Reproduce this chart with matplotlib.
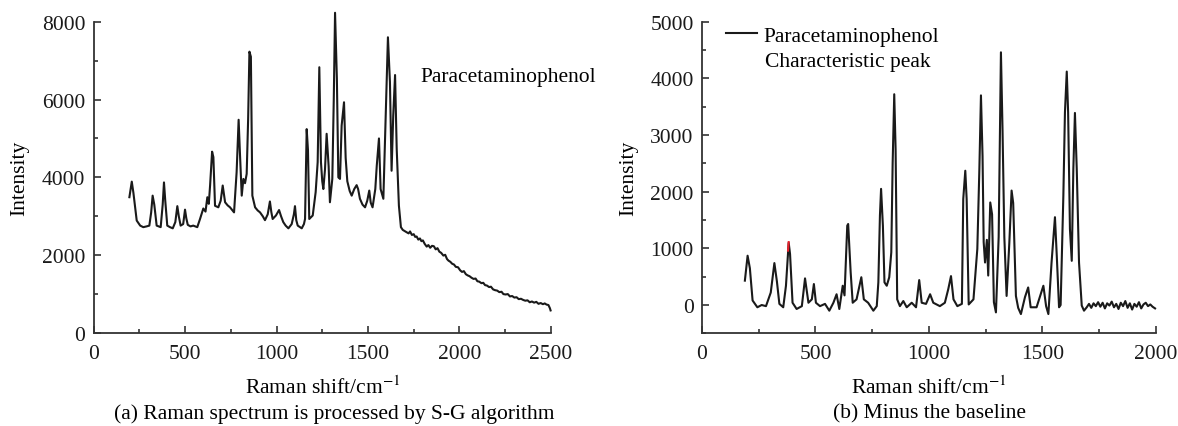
import numpy as np
import matplotlib
matplotlib.use("Agg")
import matplotlib.pyplot as plt
from matplotlib.ticker import MultipleLocator

plt.rcParams['font.family'] = ['Liberation Serif', 'DejaVu Serif']
plt.rcParams['mathtext.fontset'] = 'stix'

# (a) S-G smoothed Raman spectrum
wn_a = [196, 209, 218, 236, 255, 272, 290, 305, 315, 323, 332, 345, 367, 378, 385, 392,
        403, 418, 433, 447, 458, 466, 476, 490, 500, 507, 515, 530, 545, 567, 582, 600,
        612, 622, 630, 637, 648, 655, 664, 682, 695, 706, 719, 733, 746, 768, 782, 793,
        800, 810, 819, 828, 837, 845, 852, 860, 868, 883, 897, 910, 925, 937, 952, 964,
        972, 979, 997, 1014, 1025, 1037, 1050, 1065, 1083, 1095, 1101, 1108, 1116, 1138,
        1150, 1156, 1165, 1172, 1179, 1198, 1214, 1225, 1234, 1243, 1250, 1256, 1265,
        1274, 1285, 1292, 1305, 1313, 1320, 1330, 1338, 1347, 1356, 1369, 1378, 1387,
        1400, 1411, 1425, 1438, 1446, 1456, 1470, 1484, 1496, 1507, 1515, 1525, 1540,
        1548, 1560, 1569, 1584, 1597, 1609, 1620, 1629, 1638, 1648, 1657, 1669, 1680,
        1690, 1700, 1711, 1722, 1730, 1740, 1750, 1758, 1766, 1775, 1784, 1792, 1800,
        1810, 1821, 1830, 1840, 1850, 1860, 1870, 1880, 1890, 1900, 1912, 1922, 1932,
        1940, 1950, 1960, 1970, 1980, 1992, 2004, 2014, 2024, 2035, 2045, 2055, 2066,
        2077, 2088, 2098, 2108, 2120, 2130, 2140, 2150, 2162, 2172, 2184, 2195, 2206,
        2218, 2230, 2240, 2252, 2264, 2276, 2288, 2300, 2312, 2324, 2336, 2348, 2360,
        2372, 2384, 2396, 2408, 2420, 2432, 2444, 2456, 2466, 2476, 2486, 2494, 2498]
int_a = [3490, 3890, 3600, 2890, 2760, 2720, 2740, 2760, 3100, 3530, 3300, 2760, 2720, 3300, 3870, 3400,
         2760, 2720, 2690, 2850, 3260, 3000, 2760, 2800, 3170, 2950, 2780, 2740, 2760, 2720, 2930, 3200,
         3120, 3490, 3320, 3790, 4660, 4520, 3270, 3230, 3400, 3790, 3360, 3280, 3230, 3100, 4130, 5480,
         4640, 3530, 3960, 3850, 4090, 5500, 7230, 7100, 3530, 3230, 3150, 3100, 3000, 2900, 3050, 3380,
         3100, 2930, 3020, 3160, 3000, 2850, 2760, 2690, 2800, 3050, 3260, 2900, 2760, 2690,
         2800, 2930, 5240, 4700, 2930, 3020, 3620, 4390, 6830, 4390, 3900, 3700, 4200,
         5120, 4280, 3360, 3960, 6000, 8230, 6530, 4000, 3960, 5330, 5930, 4500, 3900,
         3650, 3530, 3700, 3800, 3700, 3450, 3300, 3230, 3400, 3660, 3350, 3230, 3700,
         4300, 5000, 3700, 3450, 5590, 7600, 6450, 4170, 5590, 6630, 4730, 3270, 2720,
         2650, 2620, 2590, 2560, 2610, 2520, 2540, 2470, 2480, 2400, 2430, 2360, 2380,
         2290, 2220, 2260, 2190, 2240, 2230, 2150, 2180, 2090, 2060, 1990, 2010, 1900,
         1860, 1830, 1780, 1760, 1700, 1690, 1610, 1570, 1590, 1510, 1480, 1460, 1420,
         1390, 1400, 1330, 1320, 1280, 1290, 1230, 1220, 1180, 1190, 1120, 1100, 1090,
         1050, 1060, 1000, 990, 1000, 940, 950, 910, 920, 870, 880, 850, 830,
         840, 790, 810, 780, 800, 750, 770, 740, 760, 730, 720, 640, 580]

# (b) spectrum after baseline subtraction
wn_b = [189, 201, 211, 223, 244, 263, 282, 303, 319, 330, 341, 358, 370, 382, 388, 399,
        417, 440, 454, 469, 484, 493, 502, 520, 542, 561, 579, 593, 605, 620, 628, 640,
        644, 655, 664, 681, 702, 713, 732, 755, 770, 777, 784, 789, 797, 804, 814, 825,
        834, 840, 847, 853, 860, 872, 887, 902, 924, 943, 957, 968, 987, 1005, 1019, 1048,
        1070, 1085, 1097, 1108, 1125, 1145, 1151, 1160, 1166, 1175, 1196, 1213, 1222,
        1229, 1236, 1241, 1247, 1255, 1261, 1270, 1278, 1286, 1295, 1307, 1313, 1317,
        1324, 1332, 1342, 1354, 1364, 1371, 1383, 1393, 1405, 1423, 1437, 1448, 1474,
        1490, 1504, 1516, 1526, 1540, 1555, 1563, 1573, 1580, 1592, 1599, 1607, 1613,
        1621, 1629, 1636, 1643, 1651, 1661, 1673, 1683, 1695, 1705, 1715, 1725, 1735,
        1745, 1755, 1765, 1775, 1785, 1795, 1805, 1815, 1825, 1835, 1845, 1855, 1865,
        1875, 1885, 1895, 1905, 1915, 1925, 1935, 1945, 1955, 1965, 1975, 1985, 1996]
int_b = [430, 870, 650, 80, -40, 0, -20, 220, 740, 420, 20, -40, 340, 1100, 900, 40,
         -70, -20, 470, 40, 100, 370, 40, -20, 20, -100, 40, 190, -70, 340, 170, 1400,
         1430, 580, 40, 100, 490, 100, 40, -100, -20, 400, 1580, 2050, 1400, 400, 340, 490,
         930, 2500, 3720, 2750, 100, -20, 70, -40, 40, -40, 440, 40, 20, 190, 40, -20,
         40, 280, 510, 100, -20, 20, 1870, 2370, 1870, 10, 100, 990, 2400,
         3700, 2630, 1110, 750, 1150, 520, 1810, 1600, 50, -130, 1200, 3100, 4460,
         3100, 1200, 160, 1100, 2020, 1800, 160, -50, -160, 140, 310, -40, -40,
         160, 340, -20, -160, 750, 1550, 870, -40, 0, 1930, 3400, 4120, 3400,
         1340, 780, 2400, 3390, 2400, 750, -10, -100, -40, 20, -50, 30, -20,
         50, -30, 40, -60, 30, -10, 60, -40, 20, -70, 40, -20, 70,
         -50, 30, -80, 20, -30, 50, -60, 10, 40, -20, 10, -30, -60]

# small red mark on top of the ~380 cm-1 peak
red_wn = [379, 382]
red_int = [960, 1110]

fs = 15.5
fig = plt.figure(figsize=(11.78, 4.27), dpi=100)
ax1 = fig.add_axes([0.0794, 0.2178, 0.3883, 0.729])
ax2 = fig.add_axes([0.5959, 0.2170, 0.3854, 0.7298])

line_kw = dict(color='#1a1a1a', lw=1.5, clip_on=False)
ax1.plot(wn_a, int_a, **line_kw)
ax2.plot(wn_b, int_b, label='Paracetaminophenol', **line_kw)
ax2.plot(red_wn, red_int, color='#e8202a', lw=1.5)

ax1.set_xlim(0, 2500)
ax1.set_ylim(0, 8000)
ax1.xaxis.set_major_locator(MultipleLocator(500))
ax1.xaxis.set_minor_locator(MultipleLocator(250))
ax1.yaxis.set_major_locator(MultipleLocator(2000))
ax1.yaxis.set_minor_locator(MultipleLocator(1000))

ax2.set_xlim(0, 2000)
ax2.set_ylim(-500, 5000)
ax2.xaxis.set_major_locator(MultipleLocator(500))
ax2.xaxis.set_minor_locator(MultipleLocator(250))
ax2.yaxis.set_major_locator(MultipleLocator(1000))
ax2.yaxis.set_minor_locator(MultipleLocator(500))

for ax in (ax1, ax2):
    for s in ('top', 'right'):
        ax.spines[s].set_visible(False)
    for s in ('left', 'bottom'):
        ax.spines[s].set_linewidth(1.3)
        ax.spines[s].set_color('#333333')
    ax.tick_params(which='both', direction='in', width=1.2, colors='#333333',
                   labelcolor='#1a1a1a', labelsize=fs)
    ax.tick_params(axis='x', which='major', length=5, pad=8)
    ax.tick_params(axis='y', which='major', length=5, pad=6)
    ax.tick_params(which='minor', length=3)
    ax.set_xlabel(r'Raman shift/cm$^{-1}$', fontsize=fs, labelpad=9)
    ax.set_ylabel('Intensity', fontsize=fs, labelpad=9)

ax1.text(1788, 6580, 'Paracetaminophenol', fontsize=fs, ha='left', va='center')

ax2.legend(loc='center left', frameon=False, fontsize=fs, handlelength=1.45,
           handletextpad=0.3, borderaxespad=0.0, borderpad=0.0,
           bbox_to_anchor=(0.053, 0.955))
ax2.text(0.139, 0.873, 'Characteristic peak', transform=ax2.transAxes,
         fontsize=fs, ha='left', va='center')

fig.text(0.2835, 0.03, '(a) Raman spectrum is processed by S-G algorithm',
         fontsize=fs, ha='center', va='center')
fig.text(0.789, 0.03, '(b) Minus the baseline', fontsize=fs, ha='center', va='center')

fig.savefig('out.png', dpi=100)
